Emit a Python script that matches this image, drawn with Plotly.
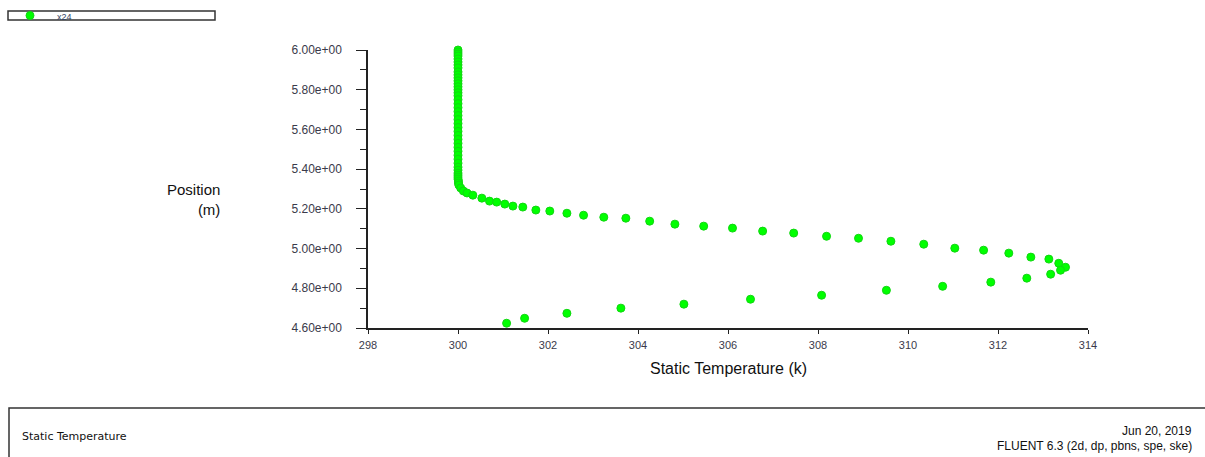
import plotly.graph_objects as go

# Static temperature profile along line x24 (position in m, temperature in K)
position = [
    6.000, 5.990, 5.980, 5.970, 5.955, 5.940, 5.925, 5.910, 5.890, 5.875,
    5.860, 5.845, 5.830, 5.815, 5.800, 5.785, 5.770, 5.750, 5.730, 5.710,
    5.690, 5.670, 5.650, 5.630, 5.610, 5.590, 5.570, 5.550, 5.530, 5.510,
    5.490, 5.470, 5.450, 5.430, 5.410, 5.395, 5.380, 5.370, 5.360, 5.350,
    5.340, 5.330, 5.320, 5.305, 5.290, 5.280, 5.269, 5.254, 5.239, 5.234,
    5.224, 5.214, 5.209, 5.194, 5.189, 5.178, 5.168, 5.158, 5.153, 5.138,
    5.123, 5.113, 5.103, 5.088, 5.078, 5.062, 5.052, 5.037, 5.022, 5.002,
    4.992, 4.977, 4.957, 4.947, 4.926, 4.906, 4.891, 4.871, 4.851, 4.831,
    4.810, 4.790, 4.765, 4.745, 4.720, 4.700, 4.674, 4.649, 4.624,
]
temperature = [
    300.00, 300.00, 300.00, 300.00, 300.00, 300.00, 300.00, 300.00, 300.00, 300.00,
    300.00, 300.00, 300.00, 300.00, 300.00, 300.00, 300.00, 300.00, 300.00, 300.00,
    300.00, 300.00, 300.00, 300.00, 300.00, 300.00, 300.00, 300.00, 300.00, 300.00,
    300.00, 300.00, 300.00, 300.00, 300.00, 300.00, 300.00, 300.00, 300.00, 300.00,
    300.01, 300.01, 300.02, 300.06, 300.12, 300.20, 300.33, 300.53, 300.70, 300.86,
    301.04, 301.22, 301.44, 301.73, 302.04, 302.42, 302.79, 303.24, 303.73, 304.26,
    304.82, 305.46, 306.10, 306.77, 307.46, 308.19, 308.90, 309.62, 310.35, 311.04,
    311.68, 312.24, 312.73, 313.13, 313.35, 313.50, 313.39, 313.17, 312.64, 311.84,
    310.77, 309.52, 308.08, 306.50, 305.02, 303.62, 302.42, 301.48, 301.08,
]

y_ticks = [4.6, 4.8, 5.0, 5.2, 5.4, 5.6, 5.8, 6.0]
y_tick_text = ["4.60e+00", "4.80e+00", "5.00e+00", "5.20e+00",
               "5.40e+00", "5.60e+00", "5.80e+00", "6.00e+00"]
x_ticks = [298, 300, 302, 304, 306, 308, 310, 312, 314]

series_name = "x24"
footer_left = "Static Temperature"
footer_date = "Jun 20, 2019"
footer_solver = "FLUENT 6.3 (2d, dp, pbns, spe, ske)"

GREEN = "#00ff00"
FONT = "Liberation Sans, Arial, sans-serif"
WIDE_FONT = "DejaVu Sans, sans-serif"
TICK_COLOR = "#3a3a4a"

# Plot area in pixels: x 368..1088, y 50..328 (from the top)
L, R, T, B = 368, 1088, 50, 328
W, H = R - L, B - T


def px(x):
    return (x - L) / W


def py(y):
    return (B - y) / H


fig = go.Figure()
fig.add_trace(go.Scatter(
    x=temperature, y=position, mode="markers", name=series_name,
    marker=dict(symbol="circle", size=8, color=GREEN,
                line=dict(color="#12d612", width=1)),
    cliponaxis=False, showlegend=False,
))

fig.update_layout(
    width=1205, height=457, autosize=False,
    margin=dict(l=L, r=1205 - R, t=T, b=457 - B),
    paper_bgcolor="white", plot_bgcolor="white",
    font=dict(family=FONT, color="#111"),
    xaxis=dict(
        range=[298, 314], tickvals=x_ticks, ticks="outside", ticklen=4,
        tickwidth=1, tickcolor="#222", showline=True, linecolor="#222",
        linewidth=1.5, showgrid=False, zeroline=False,
        tickfont=dict(size=11, color=TICK_COLOR, family=FONT),
        ticklabelstandoff=2,
    ),
    yaxis=dict(
        range=[4.6, 6.0], tickvals=y_ticks, ticktext=y_tick_text,
        ticks="outside", ticklen=10, tickwidth=1, tickcolor="#222",
        showline=True, linecolor="#222", linewidth=1.5,
        showgrid=False, zeroline=False,
        tickfont=dict(size=12, color=TICK_COLOR, family=FONT),
        ticklabelstandoff=12,
        minor=dict(dtick=0.1, ticks="outside", ticklen=6,
                   tickcolor="#222", showgrid=False),
    ),
)

# Axis titles
fig.add_annotation(
    x=px(222), y=py(199), xref="paper", yref="paper",
    text="Position<br>(m)", showarrow=False, align="right",
    xanchor="right", yanchor="middle",
    font=dict(size=15, color="#111", family=FONT),
)
fig.add_annotation(
    x=px(728), y=py(368), xref="paper", yref="paper",
    text="Static Temperature (k)", showarrow=False,
    xanchor="center", yanchor="middle",
    font=dict(size=16, color="#111", family=FONT),
)

# Legend box at the top left
fig.add_shape(type="rect", xref="paper", yref="paper",
              x0=px(8), x1=px(215), y0=py(11), y1=py(20),
              line=dict(color="#333", width=1.5), fillcolor="white")
fig.add_shape(type="circle", xref="paper", yref="paper",
              x0=px(26), x1=px(34), y0=py(11.5), y1=py(19.5),
              line=dict(color="#12d612", width=1), fillcolor=GREEN)
fig.add_annotation(
    x=px(55), y=py(17), xref="paper", yref="paper",
    text=series_name, showarrow=False, xanchor="left", yanchor="middle",
    font=dict(size=9, color="#334466", family=FONT),
)

# Footer panel
fig.add_shape(type="rect", xref="paper", yref="paper",
              x0=px(9), x1=px(1215), y0=py(408), y1=py(470),
              line=dict(color="#333", width=1.5), fillcolor="white")
fig.add_annotation(
    x=px(20), y=py(436), xref="paper", yref="paper",
    text=footer_left, showarrow=False, xanchor="left", yanchor="middle",
    font=dict(size=11, color="#111", family=WIDE_FONT),
)
fig.add_annotation(
    x=px(1194), y=py(431), xref="paper", yref="paper",
    text=footer_date, showarrow=False, xanchor="right", yanchor="middle",
    font=dict(size=12, color="#111", family=FONT),
)
fig.add_annotation(
    x=px(1194), y=py(446), xref="paper", yref="paper",
    text=footer_solver, showarrow=False, xanchor="right", yanchor="middle",
    font=dict(size=12, color="#111", family=FONT),
)

fig.write_html("out.html")
